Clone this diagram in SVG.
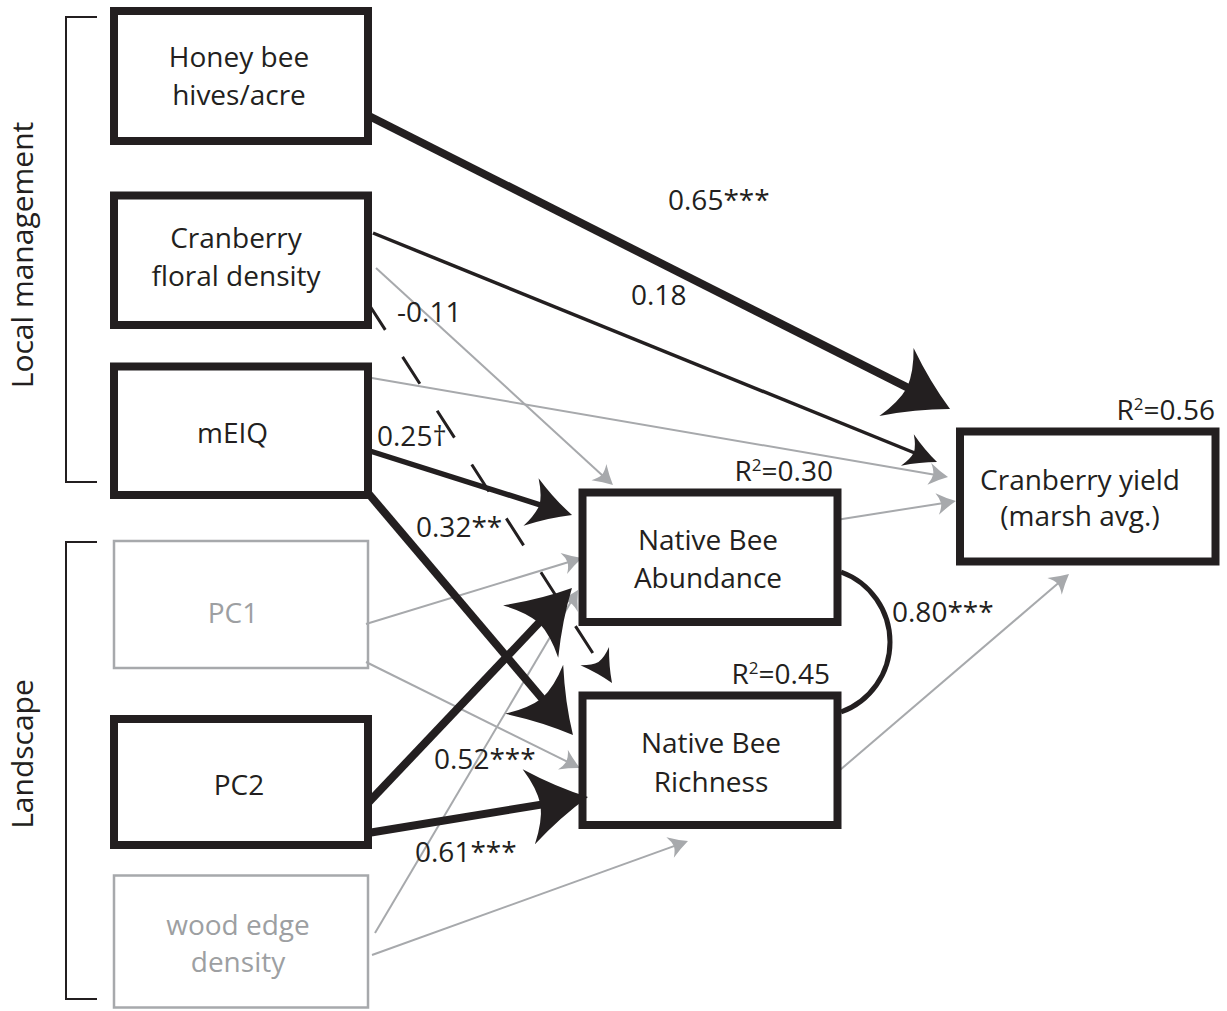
<svg xmlns="http://www.w3.org/2000/svg" width="1227" height="1011" viewBox="0 0 1227 1011">
<defs>
<style>
text{font-family:"Open Sans","Liberation Sans",sans-serif;font-size:28px;fill:#231f20}
.mid{text-anchor:middle}
.end{text-anchor:end}
.gt{fill:#9d9fa2}
.side{font-size:30px;text-anchor:middle}
.box{fill:none;stroke:#231f20;stroke-width:8}
.gbox{fill:none;stroke:#a7a9ac;stroke-width:2.5}
.brk{fill:none;stroke:#231f20;stroke-width:2}
.k{fill:none;stroke:#231f20}
.g{fill:none;stroke:#a7a9ac;stroke-width:2}
.sup{font-size:17px}
</style>
<marker id="big" markerUnits="userSpaceOnUse" orient="auto" refX="10" refY="0" markerWidth="1" markerHeight="1" overflow="visible">
<path d="M48,0 Q18,-15 -12,-38 Q-1,-17 0,0 Q-1,17 -12,38 Q18,15 48,0 Z" fill="#231f20"/>
</marker>
<marker id="mid" markerUnits="userSpaceOnUse" orient="auto" refX="7" refY="0" markerWidth="1" markerHeight="1" overflow="visible">
<path d="M34,0 Q12.5,-9.5 -9,-25 Q-1,-11 0,0 Q-1,11 -9,25 Q12.5,9.5 34,0 Z" fill="#231f20"/>
</marker>
<marker id="sml" markerUnits="userSpaceOnUse" orient="auto" refX="5" refY="0" markerWidth="1" markerHeight="1" overflow="visible">
<path d="M25,0 Q9,-6.5 -7,-17 Q-0.7,-7.5 0,0 Q-0.7,7.5 -7,17 Q9,6.5 25,0 Z" fill="#231f20"/>
</marker>
<marker id="gry" markerUnits="userSpaceOnUse" orient="auto" refX="3" refY="0" markerWidth="1" markerHeight="1" overflow="visible">
<path d="M15,0 Q5.5,-4.5 -4,-11 Q-0.3,-5 0,0 Q-0.3,5 -4,11 Q5.5,4.5 15,0 Z" fill="#a7a9ac"/>
</marker>
</defs>
<rect width="1227" height="1011" fill="#fff"/>

<g id="connectors">
<line class="g" x1="376" y1="268" x2="604.1" y2="476.9" marker-end="url(#gry)"/>
<line class="g" x1="366" y1="377" x2="936.2" y2="475" marker-end="url(#gry)"/>
<line class="g" x1="836" y1="520" x2="944.1" y2="502.9" marker-end="url(#gry)"/>
<line class="g" x1="366" y1="624" x2="570.5" y2="561.5" marker-end="url(#gry)"/>
<line class="g" x1="366" y1="662" x2="569.2" y2="762.7" marker-end="url(#gry)"/>
<line class="g" x1="375" y1="933" x2="571.9" y2="600.3" marker-end="url(#gry)"/>
<line class="g" x1="372" y1="955" x2="676.7" y2="845.1" marker-end="url(#gry)"/>
<line class="g" x1="840" y1="770" x2="1059.9" y2="581.8" marker-end="url(#gry)"/>
<line class="k" stroke-width="8" x1="369" y1="116" x2="916.1" y2="391.9" marker-end="url(#big)"/>
<line class="k" stroke-width="3.5" x1="373" y1="233" x2="918.5" y2="454.5" marker-end="url(#sml)"/>
<line class="k" stroke-width="3" stroke-dasharray="32 32" x1="368" y1="303" x2="601.2" y2="666.2" marker-end="url(#sml)"/>
<line class="k" stroke-width="5.5" x1="370" y1="451" x2="546.3" y2="506.8" marker-end="url(#mid)"/>
<line class="k" stroke-width="8" x1="368" y1="493" x2="548.4" y2="706" marker-end="url(#big)"/>
<line class="k" stroke-width="8" x1="368" y1="803" x2="545.8" y2="615.6" marker-end="url(#big)"/>
<line class="k" stroke-width="8" x1="368" y1="833" x2="550.5" y2="803.1" marker-end="url(#big)"/>
<path class="k" stroke-width="5" d="M841,572 A74.5,74.5 0 0 1 841,712"/>
<text x="668" y="210">0.65***</text>
<text x="631" y="305">0.18</text>
<text x="397" y="322">-0.11</text>
<text x="377" y="446">0.25†</text>
<text x="416" y="537">0.32**</text>
<text x="892" y="622">0.80***</text>
<text x="434" y="769">0.52***</text>
<text x="415" y="862">0.61***</text>
</g>

<g id="bracket-local">
<path class="brk" d="M97,17 H66 V482 H97"/>
<text class="side" transform="translate(33,255) rotate(-90)">Local management</text>
</g>
<g id="bracket-landscape">
<path class="brk" d="M97,542 H66 V999 H97"/>
<text class="side" transform="translate(33,754) rotate(-90)">Landscape</text>
</g>

<g id="honeybee">
<rect class="box" x="114" y="11" width="254" height="130"/>
<text class="mid" x="239" y="66.5">Honey bee</text>
<text class="mid" x="239" y="105">hives/acre</text>
</g>
<g id="floral">
<rect class="box" x="114" y="195.5" width="254" height="129.5"/>
<text class="mid" x="236" y="248">Cranberry</text>
<text class="mid" x="236" y="286">floral density</text>
</g>
<g id="meiq">
<rect class="box" x="114" y="366.5" width="254" height="128.5"/>
<text class="mid" x="232.5" y="443">mEIQ</text>
</g>
<g id="pc1">
<rect class="gbox" x="114" y="541" width="254" height="127"/>
<text class="mid gt" x="233" y="623">PC1</text>
</g>
<g id="pc2">
<rect class="box" x="114" y="719" width="254" height="126"/>
<text class="mid" x="239" y="795">PC2</text>
</g>
<g id="woodedge">
<rect class="gbox" x="114" y="875.5" width="254" height="132"/>
<text class="mid gt" x="238" y="935">wood edge</text>
<text class="mid gt" x="238" y="972">density</text>
</g>
<g id="abundance">
<rect class="box" x="582.5" y="492.5" width="255" height="129.5"/>
<text class="mid" x="708" y="550">Native Bee</text>
<text class="mid" x="708" y="588">Abundance</text>
<text class="end" x="833" y="481">R<tspan class="sup" dy="-10">2</tspan><tspan dy="10">=0.30</tspan></text>
</g>
<g id="richness">
<rect class="box" x="582.5" y="695.5" width="255" height="129.5"/>
<text class="mid" x="711" y="753">Native Bee</text>
<text class="mid" x="711" y="792">Richness</text>
<text class="end" x="830" y="684">R<tspan class="sup" dy="-10">2</tspan><tspan dy="10">=0.45</tspan></text>
</g>
<g id="yield">
<rect class="box" x="960" y="431.5" width="255.5" height="130"/>
<text class="mid" x="1080" y="490">Cranberry yield</text>
<text class="mid" x="1080" y="526">(marsh avg.)</text>
<text class="end" x="1215" y="420">R<tspan class="sup" dy="-10">2</tspan><tspan dy="10">=0.56</tspan></text>
</g>
</svg>
